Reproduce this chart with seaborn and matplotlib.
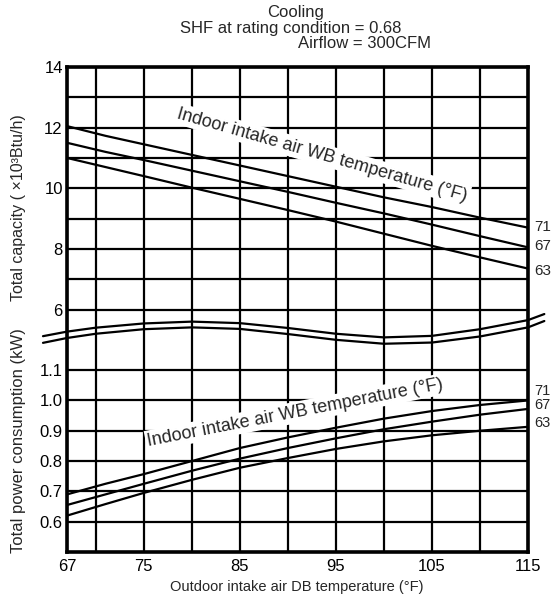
import pandas as pd
import matplotlib
matplotlib.use("Agg")
import matplotlib.pyplot as plt
import seaborn as sns

# outdoor DB temperature (F) where curve values were read
db_temps = [67, 71, 75, 80, 85, 90, 95, 100, 105, 110, 115]
wb_labels = ["71", "67", "63"]

# total capacity (x10^3 Btu/h)
cap_71 = [12.05, 11.73, 11.45, 11.1, 10.75, 10.4, 10.05, 9.7, 9.38, 9.03, 8.7]
cap_67 = [11.5, 11.2, 10.93, 10.58, 10.23, 9.88, 9.52, 9.17, 8.8, 8.42, 8.05]
cap_63 = [11.0, 10.7, 10.4, 10.02, 9.65, 9.28, 8.9, 8.5, 8.1, 7.72, 7.35]

# total power consumption (kW)
pow_71 = [0.69, 0.725, 0.757, 0.80, 0.843, 0.878, 0.91, 0.94, 0.965, 0.985, 1.0]
pow_67 = [0.655, 0.69, 0.725, 0.768, 0.808, 0.843, 0.875, 0.905, 0.93, 0.953, 0.972]
pow_63 = [0.62, 0.658, 0.695, 0.738, 0.778, 0.81, 0.84, 0.865, 0.885, 0.90, 0.913]

# axis break (wavy lines), in plot units
wave_x = [64.5, 67, 70, 75, 80, 85, 90, 95, 100, 105, 110, 115, 116.7]
wave_upper = [7.12, 7.27, 7.40, 7.54, 7.60, 7.55, 7.39, 7.20, 7.08, 7.13, 7.35, 7.65, 7.85]
wave_lower = [6.90, 7.06, 7.20, 7.35, 7.41, 7.36, 7.19, 7.00, 6.87, 6.91, 7.11, 7.41, 7.62]

x_labels = [67, 75, 85, 95, 105, 115]
x_minor = [70, 80, 90, 100, 110]
pow_ticks = [0.6, 0.7, 0.8, 0.9, 1.0, 1.1]
cap_ticks = [6, 8, 10, 12, 14]
cap_minor = [7, 9, 11, 13]


# one shared y scale: power below the break, capacity above it
def pow_u(v):
    return (v - 0.5) * 10


def cap_u(v):
    return v + 2


rows = []
for lab, c, p in zip(wb_labels, [cap_71, cap_67, cap_63], [pow_71, pow_67, pow_63]):
    for t, cv, pv in zip(db_temps, c, p):
        rows.append({"db": t, "wb": lab, "part": "cap", "u": cap_u(cv)})
        rows.append({"db": t, "wb": lab, "part": "pow", "u": pow_u(pv)})
df = pd.DataFrame(rows)

sns.set_style("white")
plt.rcParams["font.family"] = ["Liberation Sans", "DejaVu Sans"]

fig = plt.figure(figsize=(5.53, 5.98), dpi=100)
ax = fig.add_axes([67 / 553, 46 / 598, 461 / 553, 485 / 598])

for part in ["cap", "pow"]:
    sub = df[df["part"] == part]
    sns.lineplot(data=sub, x="db", y="u", hue="wb", palette=["black"] * 3,
                 legend=False, linewidth=1.6, ax=ax, zorder=5)

ax.plot(wave_x, wave_upper, color="black", lw=1.6, clip_on=False, zorder=5)
ax.plot(wave_x, wave_lower, color="black", lw=1.6, clip_on=False, zorder=5)

ax.set_xlim(67, 115)
ax.set_ylim(0, 16)
ax.set_xticks(x_labels)
ax.set_xticklabels([str(v) for v in x_labels])
ax.set_xticks(x_minor, minor=True)
yt = [pow_u(v) for v in pow_ticks] + [cap_u(v) for v in cap_ticks]
ax.set_yticks(yt)
ax.set_yticklabels([f"{v:.1f}" for v in pow_ticks] + [str(v) for v in cap_ticks])
ax.set_yticks([cap_u(v) for v in cap_minor], minor=True)
ax.tick_params(which="both", length=0, labelsize=12, colors="black")
ax.tick_params(axis="x", pad=5)
ax.tick_params(axis="y", pad=3)
ax.grid(which="both", color="black", linewidth=1.6, zorder=1)
ax.set_axisbelow(True)
for s in ax.spines.values():
    s.set_linewidth(2.6)
    s.set_color("black")
    s.set_zorder(6)
ax.set_xlabel("")
ax.set_ylabel("")

# curve annotations
ax.text(93.6, 13.1, "Indoor intake air WB temperature (°F)", rotation=-16,
        ha="center", va="center", fontsize=13, rotation_mode="anchor",
        bbox=dict(fc="white", ec="none", pad=1.5), zorder=4)
ax.text(90.8, 4.6, "Indoor intake air WB temperature (°F)", rotation=11,
        ha="center", va="center", fontsize=13, rotation_mode="anchor",
        bbox=dict(fc="white", ec="none", pad=1.5), zorder=4)

cap_lab_u = [10.73, 10.1, 9.27]
pow_lab_u = [5.3, 4.84, 4.25]
for lab, a, b in zip(wb_labels, cap_lab_u, pow_lab_u):
    ax.text(115.6, a, lab, ha="left", va="center", fontsize=11, clip_on=False)
    ax.text(115.6, b, lab, ha="left", va="center", fontsize=10.5, clip_on=False)

fig.text(296 / 553, 1 - 13 / 598, "Cooling", ha="center", va="center", fontsize=12)
fig.text(291 / 553, 1 - 28 / 598, "SHF at rating condition = 0.68", ha="center", va="center", fontsize=12)
fig.text(431 / 553, 1 - 43 / 598, "Airflow = 300CFM", ha="right", va="center", fontsize=12)

fig.text(19 / 553, 1 - 208 / 598, "Total capacity ( \u00d710\u00b3Btu/h)", rotation=90,
         ha="center", va="center", fontsize=11.5)
fig.text(19 / 553, 1 - 441 / 598, "Total power consumption (kW)", rotation=90,
         ha="center", va="center", fontsize=12)
fig.text(297 / 553, 1 - 587 / 598, "Outdoor intake air DB temperature (°F)",
         ha="center", va="center", fontsize=10.5)

fig.savefig("out.png", dpi=100)
